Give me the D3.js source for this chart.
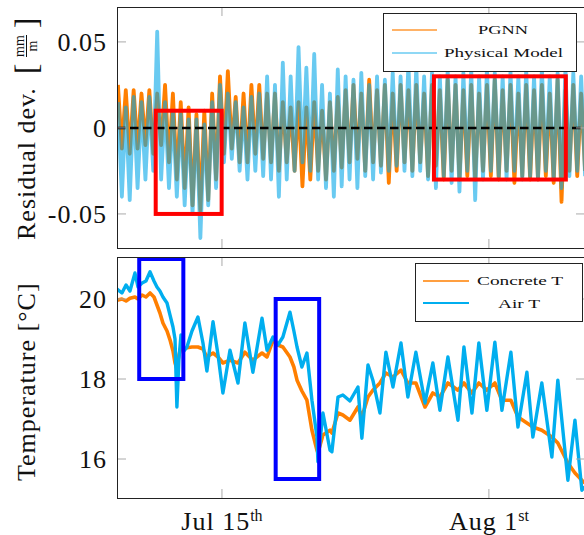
<!DOCTYPE html>
<html>
<head>
<meta charset="UTF-8" />
<title>Residual deviation and temperature</title>
<script src="https://d3js.org/d3.v7.min.js"></script>
<style>
  body { margin: 0; background: #fff; }
  text { font-family: "Liberation Serif", "DejaVu Serif", serif; fill: #111; }
  .big { font-size: 26px; letter-spacing: 1px; }
  .legend text { font-size: 12.5px; }
  .frame { fill: none; stroke: #222; stroke-width: 1; }
  .tick { stroke: #aaa; stroke-width: 1; }
</style>
</head>
<body>
<svg id="chart" width="584" height="535"></svg>
<script>
// days are counted from July 1st (32 = Aug 1st)
const xTicks = [15, 32];
const xTickLabels = [["Jul 15", "th"], ["Aug 1", "st"]];
const resTicks = [-0.05, 0, 0.05];
const resTickLabels = ["-0.05", "0", "0.05"];
const tempTicks = [16, 18, 20];

// residual deviation: spike tops / bottoms per half day
const resDays = [8.5, 9, 9.5, 10, 10.5, 11, 11.5, 12, 12.5, 13, 13.5, 14, 14.5, 15, 15.5, 16, 16.5, 17, 17.5, 18,
  18.5, 19, 19.5, 20, 20.5, 21, 21.5, 22, 22.5, 23, 23.5, 24, 24.5, 25, 25.5, 26, 26.5, 27, 27.5, 28,
  28.5, 29, 29.5, 30, 30.5, 31, 31.5, 32, 32.5, 33, 33.5, 34, 34.5, 35, 35.5, 36, 36.5, 37, 37.5, 38];
const pgnnHi = [.025, .022, .022, .020, .022, .020, .025, .020, .015, .012, .008, .010, .020, .030, .033, .018, .020, .025, .025, .020,
  .020, .015, .012, .015, .012, .015, .010, .015, .018, .022, .025, .020, .028, .022, .025, .020, .025, .022, .025, .020,
  .025, .022, .028, .025, .022, .025, .020, .025, .028, .022, .025, .020, .025, .022, .025, .020, .028, .022, .025, .020];
const pgnnLo = [-.012, -.015, -.012, -.010, -.015, -.010, -.020, -.030, -.035, -.045, -.048, -.042, -.030, -.015, -.012, -.020, -.020, -.015, -.018, -.020,
  -.025, -.020, -.025, -.034, -.030, -.025, -.030, -.025, -.023, -.020, -.018, -.025, -.020, -.022, -.032, -.025, -.020, -.025, -.020, -.028,
  -.022, -.030, -.025, -.030, -.028, -.030, -.025, -.028, -.030, -.025, -.032, -.028, -.030, -.030, -.028, -.032, -.043, -.025, -.028, -.025];
const physHi = [.015, .012, .018, .015, .018, .056, .015, .010, .008, .005, .005, .002, .015, .025, .020, .015, .012, .018, .020, .030,
  .025, .038, .030, .047, .035, .043, .025, .020, .034, .030, .028, .032, .025, .030, .028, .032, .030, .038, .036, .030,
  .032, .030, .034, .030, .032, .034, .030, .035, .032, .030, .033, .030, .034, .030, .035, .030, .032, .035, .032, .030];
const physLo = [-.040, -.042, -.035, -.030, -.025, -.030, -.035, -.040, -.045, -.050, -.064, -.045, -.035, -.020, -.018, -.025, -.030, -.025, -.028, -.030,
  -.040, -.030, -.025, -.020, -.025, -.030, -.035, -.040, -.034, -.030, -.035, -.028, -.030, -.026, -.025, -.022, -.025, -.028, -.025, -.030,
  -.035, -.028, -.032, -.037, -.025, -.042, -.030, -.025, -.028, -.030, -.025, -.030, -.028, -.030, -.025, -.030, -.035, -.028, -.025, -.028];

// temperatures
const tempDays = [8.32, 8.63, 8.89, 9.14, 9.46, 9.65, 9.91, 10.16, 10.42, 10.67, 10.86, 11.05, 11.24, 11.50, 11.69, 11.88, 12.01, 12.13, 12.26, 12.39,
  12.58, 12.77, 13.09, 13.47, 13.79, 14.04, 14.43, 14.75, 15.06, 15.51, 16.02, 16.46, 16.97, 17.55, 17.87, 18.25, 18.56, 18.88, 19.33, 19.58,
  19.78, 20.09, 20.41, 20.73, 21.05, 21.11, 21.43, 21.88, 22.00, 22.39, 22.70, 23.15, 23.66, 23.91, 24.30, 24.61, 25.06, 25.44, 25.89, 26.40,
  26.84, 27.35, 27.93, 28.43, 28.88, 29.39, 30.03, 30.41, 30.92, 31.36, 31.87, 32.38, 32.83, 33.40, 33.85, 34.42, 34.80, 35.37, 36.01, 36.39,
  37.03, 37.48, 37.92, 38.10];
const concreteT = [19.97, 20.0, 19.95, 20.02, 20.05, 20.0, 20.1, 20.05, 20.15, 20.05, 19.85, 19.65, 19.4, 19.2, 18.98, 18.7, 18.4, 18.25, 18.6, 18.8,
  18.75, 18.78, 18.8, 18.8, 18.75, 18.55, 18.65, 18.55, 18.4, 18.47, 18.4, 18.67, 18.47, 18.65, 18.55, 18.97, 18.85, 18.8, 18.55, 18.3,
  17.97, 17.7, 17.47, 16.72, 16.22, 16.15, 16.6, 16.72, 16.65, 17.15, 17.1, 16.97, 17.3, 17.05, 17.55, 17.72, 17.9, 18.15, 18.05, 18.22,
  17.9, 17.9, 17.3, 17.65, 17.55, 17.9, 17.72, 17.9, 17.65, 17.9, 17.72, 17.9, 17.47, 17.47, 17.05, 16.9, 16.8, 16.72, 16.55, 16.4,
  15.9, 15.65, 15.47, 15.4];
const airT = [20.25, 20.15, 20.35, 20.2, 20.65, 20.3, 20.4, 20.45, 20.68, 20.45, 20.3, 20.2, 20.05, 19.9, 19.6, 19.3, 19.0, 17.3, 18.5, 19.1,
  18.7, 18.8, 19.2, 19.55, 18.9, 18.2, 19.43, 18.6, 17.65, 18.72, 17.9, 19.4, 18.17, 19.52, 18.72, 19.05, 18.85, 19.05, 19.67, 19.2,
  18.8, 18.3, 18.65, 17.47, 16.55, 15.93, 17.15, 16.22, 16.18, 17.55, 17.6, 17.45, 17.8, 16.52, 18.35, 17.97, 17.15, 18.67, 17.8, 18.9,
  17.55, 18.67, 17.4, 18.4, 17.22, 18.55, 16.97, 18.8, 17.15, 18.9, 17.22, 18.92, 17.22, 18.67, 16.8, 18.17, 16.55, 17.9, 16.05, 17.97,
  15.47, 16.97, 15.22, 15.3];

// highlighted windows: [day from, day to, value low, value high]
const redBoxes = [[10.78, 14.98, -0.05, 0.01], [28.5, 36.9, -0.03, 0.03]];
const blueBoxes = [[9.73, 12.54, 18, 21], [18.42, 21.19, 15.5, 20]];

const svg = d3.select("#chart");
const left = 117, right = 585;
const top1 = 7, bottom1 = 248, top2 = 257, bottom2 = 498;

const x = d3.scaleLinear().domain([8.315, 38.12]).range([left, right]);
const yRes = d3.scaleLinear().domain([-0.0698, 0.0703]).range([bottom1, top1]);
const yTemp = d3.scaleLinear().domain([15.025, 21.05]).range([bottom2, top2]);

const defs = svg.append("defs");
[["clip1", top1, bottom1], ["clip2", top2, bottom2]].forEach(([id, t, b]) => {
  defs.append("clipPath").attr("id", id)
    .append("rect").attr("x", left).attr("y", t).attr("width", right - left).attr("height", b - t);
});

// ---------- top panel ----------
const p1 = svg.append("g").attr("clip-path", "url(#clip1)");
const resLine = d3.line().x(p => x(p[0])).y(p => yRes(p[1]));
const zigzag = (hi, lo) => resDays.flatMap((d, i) => [[d - 0.125, hi[i]], [d + 0.125, lo[i]]]);

p1.append("path").attr("d", resLine(zigzag(pgnnHi, pgnnLo)))
  .attr("fill", "none").attr("stroke", "#ff7f00").attr("stroke-width", 3.8).attr("stroke-linejoin", "round");
p1.append("path").attr("d", resLine(zigzag(physHi, physLo)))
  .attr("fill", "none").attr("stroke", "#05a6e7").attr("stroke-opacity", 0.6)
  .attr("stroke-width", 3.8).attr("stroke-linejoin", "round");
p1.append("line")
  .attr("x1", left).attr("x2", right).attr("y1", yRes(0)).attr("y2", yRes(0))
  .attr("stroke", "#000").attr("stroke-width", 2.5).attr("stroke-dasharray", "8.5,4.5");
p1.selectAll("rect.box").data(redBoxes).join("rect").attr("class", "box")
  .attr("x", d => x(d[0])).attr("width", d => x(d[1]) - x(d[0]))
  .attr("y", d => yRes(d[3])).attr("height", d => yRes(d[2]) - yRes(d[3]))
  .attr("fill", "none").attr("stroke", "#ff0000").attr("stroke-width", 4);

// ---------- bottom panel ----------
const p2 = svg.append("g").attr("clip-path", "url(#clip2)");
const tempLine = vals => d3.line().x((d, i) => x(tempDays[i])).y(d => yTemp(d))(vals);
p2.append("path").attr("d", tempLine(concreteT))
  .attr("fill", "none").attr("stroke", "#ff7f00").attr("stroke-width", 3.6).attr("stroke-linejoin", "round");
p2.append("path").attr("d", tempLine(airT))
  .attr("fill", "none").attr("stroke", "#00aeef").attr("stroke-width", 3.4).attr("stroke-linejoin", "round");
p2.selectAll("rect.box").data(blueBoxes).join("rect").attr("class", "box")
  .attr("x", d => x(d[0])).attr("width", d => x(d[1]) - x(d[0]))
  .attr("y", d => yTemp(d[3])).attr("height", d => yTemp(d[2]) - yTemp(d[3]))
  .attr("fill", "none").attr("stroke", "#0000ff").attr("stroke-width", 4);

// ---------- frames and ticks ----------
function drawAxes(y, ticks, labels, t, b) {
  const g = svg.append("g");
  ticks.forEach((v, i) => {
    g.append("line").attr("class", "tick").attr("x1", left).attr("x2", left + 9).attr("y1", y(v)).attr("y2", y(v));
    g.append("line").attr("class", "tick").attr("x1", right - 9).attr("x2", right).attr("y1", y(v)).attr("y2", y(v));
    g.append("text").attr("class", "big").attr("x", 107).attr("y", y(v)).attr("dy", "0.36em")
      .attr("text-anchor", "end").text(labels[i]);
  });
  xTicks.forEach(v => {
    g.append("line").attr("class", "tick").attr("x1", x(v)).attr("x2", x(v)).attr("y1", t).attr("y2", t + 9);
    g.append("line").attr("class", "tick").attr("x1", x(v)).attr("x2", x(v)).attr("y1", b - 9).attr("y2", b);
  });
  g.append("rect").attr("class", "frame").attr("x", left + 0.5).attr("y", t + 0.5)
    .attr("width", right - left).attr("height", b - t);
}
drawAxes(yRes, resTicks, resTickLabels, top1, bottom1);
drawAxes(yTemp, tempTicks, tempTicks.map(String), top2, bottom2);

xTicks.forEach((v, i) => {
  const t = svg.append("text").attr("class", "big").attr("x", x(v)).attr("y", 530).attr("text-anchor", "middle");
  t.append("tspan").text(xTickLabels[i][0]);
  t.append("tspan").attr("dy", -9).attr("font-size", 16).attr("letter-spacing", 0).text(xTickLabels[i][1]);
});

// ---------- axis titles ----------
const lab1 = svg.append("g").attr("transform", "translate(35,240) rotate(-90)");
lab1.append("text").attr("class", "big").text("Residual dev.");
lab1.append("text").attr("x", 166).attr("y", 2).attr("font-size", 31).text("[");
lab1.append("text").attr("x", 212).attr("y", 2).attr("font-size", 31).text("]");
lab1.append("text").attr("x", 194).attr("y", -11).attr("font-size", 14).attr("text-anchor", "middle").text("mm");
lab1.append("text").attr("x", 194).attr("y", 2).attr("font-size", 14).attr("text-anchor", "middle").text("m");
lab1.append("line").attr("x1", 183).attr("x2", 205).attr("y1", -8.5).attr("y2", -8.5)
  .attr("stroke", "#111").attr("stroke-width", 1);

svg.append("text").attr("class", "big").attr("transform", "translate(35,481) rotate(-90)").text("Temperature [°C]");

// ---------- legends ----------
function legend(bx, by, bw, bh, items) {
  const g = svg.append("g").attr("class", "legend");
  g.append("rect").attr("x", bx + 0.5).attr("y", by + 0.5).attr("width", bw).attr("height", bh)
    .attr("fill", "#fff").attr("stroke", "#222").attr("stroke-width", 1);
  items.forEach(it => {
    g.append("line").attr("x1", it.x1).attr("x2", it.x2).attr("y1", it.y).attr("y2", it.y)
      .attr("stroke", it.color).attr("stroke-opacity", it.opacity).attr("stroke-width", it.width);
    g.append("text").attr("x", it.tx).attr("y", it.ty).attr("text-anchor", "middle")
      .attr("textLength", it.len).attr("lengthAdjust", "spacingAndGlyphs").text(it.label);
  });
}
legend(383, 13, 193, 58, [
  { label: "PGNN", color: "#ff7f00", opacity: 0.8, width: 1.3, x1: 392, x2: 437, y: 30, tx: 503, ty: 33.5, len: 50 },
  { label: "Physical Model", color: "#05a6e7", opacity: 0.6, width: 1.6, x1: 392, x2: 437, y: 53, tx: 503.5, ty: 56.5, len: 119 }
]);
legend(415, 263, 167, 58, [
  { label: "Concrete T", color: "#ff7f00", opacity: 1, width: 1.3, x1: 423, x2: 469, y: 281, tx: 520, ty: 284.5, len: 86 },
  { label: "Air T", color: "#00aeef", opacity: 1, width: 2.2, x1: 423, x2: 469, y: 303, tx: 519, ty: 307.5, len: 42 }
]);
</script>
</body>
</html>
